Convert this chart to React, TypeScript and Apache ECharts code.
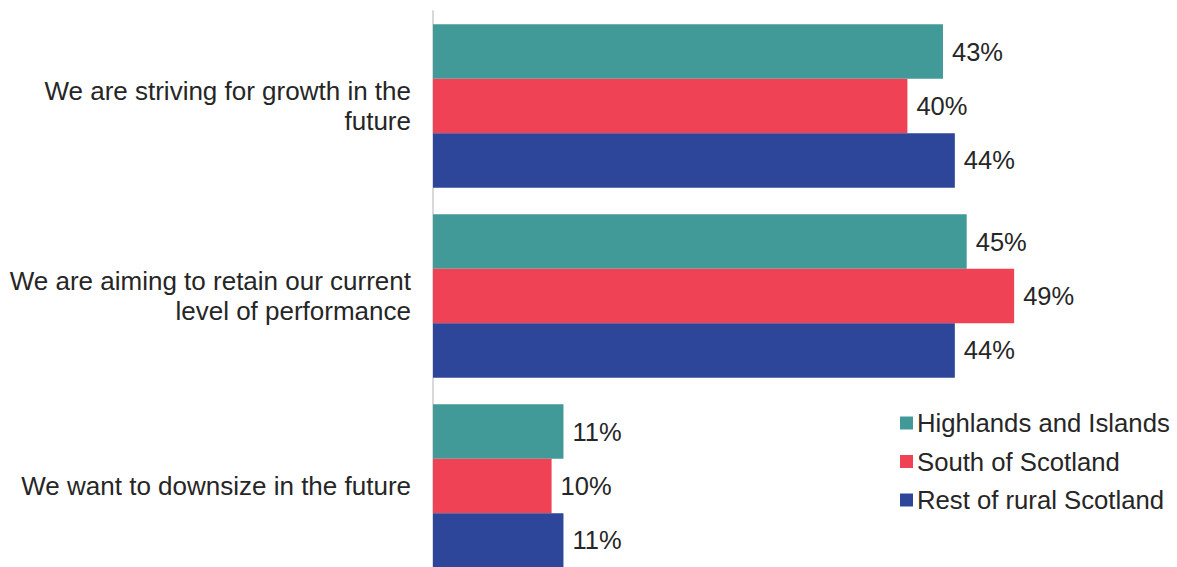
import React, { useEffect, useRef } from "react";
import * as echarts from "echarts";

const categories = [
  "We are striving for growth in the\nfuture",
  "We are aiming to retain our current\nlevel of performance",
  "We want to downsize in the future",
];
const seriesNames = ["Highlands and Islands", "South of Scotland", "Rest of rural Scotland"];
const highlands = [43, 45, 11];
const south = [40, 49, 10];
const restRural = [44, 44, 11];
const colors = ["#429A98", "#F04255", "#2E4699"];

export default function App() {
  const ref = useRef<HTMLDivElement>(null);
  useEffect(() => {
    if (!ref.current) return;
    const chart = echarts.init(ref.current, null, { renderer: "svg" });
    const values = [highlands, south, restRural];
    chart.setOption({
      animation: false,
      textStyle: { fontFamily: "Liberation Sans, Arial, sans-serif" },
      grid: {
        left: 433,
        top: 11,
        width: 711.6,
        height: 570,
        containLabel: false,
        outerBoundsMode: "none",
      },
      legend: {
        orient: "vertical",
        left: 895,
        top: 405,
        itemWidth: 13,
        itemHeight: 13,
        itemGap: 12.5,
        icon: "rect",
        textStyle: { fontSize: 25.7, lineHeight: 26, color: "#262626", padding: [0, 0, 0, -1] },
        data: seriesNames,
      },
      xAxis: {
        type: "value",
        min: 0,
        max: 60,
        show: false,
      },
      yAxis: {
        type: "category",
        inverse: true,
        data: categories,
        axisLine: { show: true, lineStyle: { color: "#D9D9D9", width: 2 } },
        axisTick: { show: false },
        axisLabel: {
          fontSize: 26,
          color: "#262626",
          margin: 22,
          align: "right",
          lineHeight: 30,
        },
      },
      series: seriesNames.map((name, i) => ({
        name,
        type: "bar",
        data: values[i],
        barCategoryGap: "14%",
        barGap: "0%",
        itemStyle: { color: colors[i] },
        label: {
          show: true,
          position: "right",
          distance: 9,
          fontSize: 25.5,
          color: "#262626",
          formatter: "{c}%",
        },
      })),
    });
    return () => chart.dispose();
  }, []);
  return (
    <div
      ref={ref}
      style={{ position: "fixed", left: 0, top: 0, width: 1177, height: 567, background: "#fff" }}
    />
  );
}
